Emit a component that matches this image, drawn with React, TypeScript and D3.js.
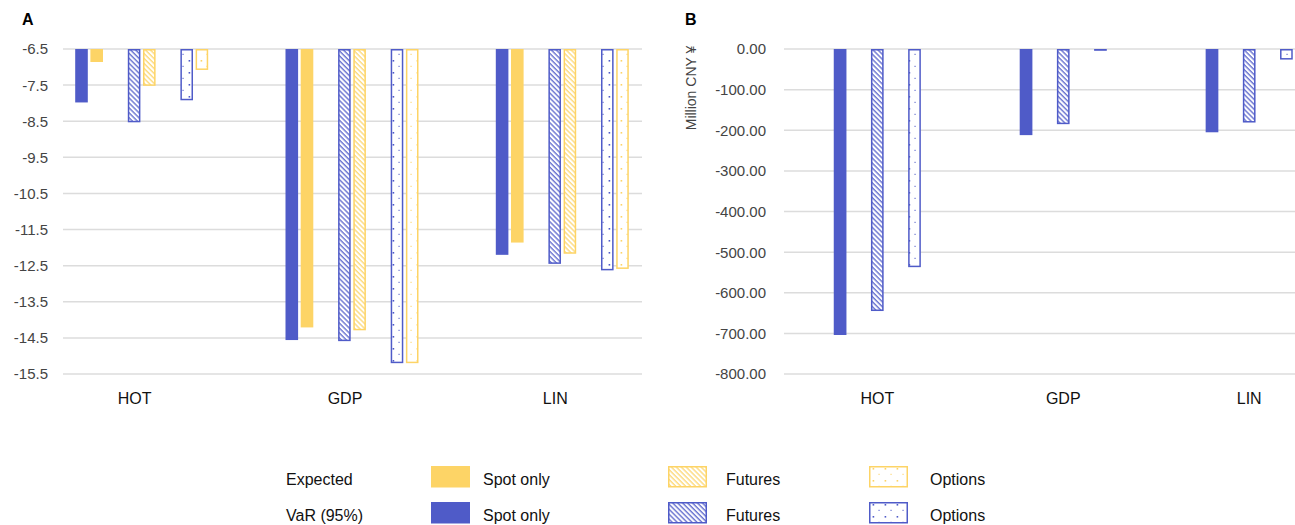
import * as d3 from 'd3'

const categories = ['HOT', 'GDP', 'LIN']
const instruments = ['Spot only', 'Futures', 'Options']
const measures = ['Expected', 'VaR (95%)']

// panel A (per-unit values)
const expSpotA = [-6.86, -14.21, -11.86]
const expFutA = [-7.52, -14.29, -12.17]
const expOptA = [-7.08, -15.2, -12.59]
const varSpotA = [-7.98, -14.56, -12.2]
const varFutA = [-8.53, -14.59, -12.45]
const varOptA = [-7.92, -15.2, -12.63]
const ticksA = [-6.5, -7.5, -8.5, -9.5, -10.5, -11.5, -12.5, -13.5, -14.5, -15.5]

// panel B (Million CNY)
const varSpotB = [-704, -212, -205]
const varFutB = [-645, -185, -181]
const varOptB = [-537, -4, -26]
const ticksB = [0, -100, -200, -300, -400, -500, -600, -700, -800]

const BLUE = '#4f5bc8'
const YELLOW = '#fdd466'
const GRID = '#dcdcdc'
const FONT = '"Liberation Sans", Arial, sans-serif'

const fillFor = (inst: string, color: string) => {
  const key = color === BLUE ? 'b' : 'y'
  if (inst === 'Futures') return `url(#hatch-${key})`
  if (inst === 'Options') return `url(#dots-${key})`
  return color
}

const Bar = ({ x, y0, y1, w, inst, color }) => {
  const top = Math.min(y0, y1)
  const h = Math.abs(y1 - y0)
  if (inst === 'Spot only') {
    return <rect x={x} y={top} width={w} height={h} fill={color} />
  }
  return (
    <rect x={x + 0.75} y={top + 0.75} width={w - 1.5} height={Math.max(0.3, h - 1.5)}
      fill={fillFor(inst, color)} stroke={color} strokeWidth={1.5} />
  )
}

export default function App() {
  const yA = d3.scaleLinear().domain([-6.5, -15.5]).range([49, 374])
  const xA = d3.scalePoint().domain(categories).range([141.7, 562.3])
  const subA = d3.scalePoint().domain(instruments).range([-52.6, 52.6])
  const bwA = 12.6

  const yB = d3.scaleLinear().domain([0, -800]).range([49, 374])
  const xB = d3.scalePoint().domain(categories).range([877.3, 1249.2])
  const subB = d3.scalePoint().domain(instruments).range([-37.2, 37.2])
  const bwB = 12.7

  const seriesA = [
    { inst: 'Spot only', m: 'VaR (95%)', vals: varSpotA },
    { inst: 'Spot only', m: 'Expected', vals: expSpotA },
    { inst: 'Futures', m: 'VaR (95%)', vals: varFutA },
    { inst: 'Futures', m: 'Expected', vals: expFutA },
    { inst: 'Options', m: 'VaR (95%)', vals: varOptA },
    { inst: 'Options', m: 'Expected', vals: expOptA },
  ]
  const seriesB = [
    { inst: 'Spot only', vals: varSpotB },
    { inst: 'Futures', vals: varFutB },
    { inst: 'Options', vals: varOptB },
  ]

  const legendCols = [431, 668, 869]
  const legendRows = [466, 502]

  return (
    <svg width={1295} height={525} style={{ position: 'absolute', left: 0, top: 0, fontFamily: FONT }}>
      <defs>
        {[['b', BLUE], ['y', YELLOW]].map(([k, c]) => (
          <g key={k}>
            <pattern id={`hatch-${k}`} patternUnits="userSpaceOnUse" width={3.5} height={3.5}
              patternTransform="rotate(-45)">
              <rect width={3.5} height={3.5} fill="#fff" />
              <line x1={1} y1={0} x2={1} y2={3.5} stroke={c} strokeWidth={1.2} />
            </pattern>
            <pattern id={`dots-${k}`} patternUnits="userSpaceOnUse" width={12} height={12}>
              <rect width={12} height={12} fill="#fff" />
              <rect x={8.6} y={0} width={1.6} height={1.6} fill={c} />
              <rect x={2.5} y={5.8} width={1.1} height={1.1} fill={c} />
            </pattern>
          </g>
        ))}
      </defs>

      {/* Panel A */}
      <text x={22} y={25} fontSize={16} fontWeight="bold" fill="#000">A</text>
      {ticksA.map(t => (
        <g key={t}>
          <line x1={63} x2={642} y1={yA(t)} y2={yA(t)} stroke={GRID} strokeWidth={1.5} />
          <text x={48} y={yA(t)} dy="0.36em" textAnchor="end" fontSize={15} fill="#444">{t.toFixed(1)}</text>
        </g>
      ))}
      {seriesA.map(s => s.vals.map((v, i) => {
        const cx = xA(categories[i]) + subA(s.inst) + (s.m === 'VaR (95%)' ? -7.6 : 7.6)
        return <Bar key={s.inst + s.m + i} x={cx - bwA / 2} y0={yA(-6.5)} y1={yA(v)} w={bwA}
          inst={s.inst} color={s.m === 'VaR (95%)' ? BLUE : YELLOW} />
      }))}
      {categories.map(c => (
        <text key={c} x={xA(c) - 7} y={404} textAnchor="middle" fontSize={16} fill="#111">{c}</text>
      ))}

      {/* Panel B */}
      <text x={685} y={25} fontSize={16} fontWeight="bold" fill="#000">B</text>
      <text transform="translate(696,88) rotate(-90)" textAnchor="middle" fontSize={14} fill="#444">Million CNY ¥</text>
      {ticksB.map(t => (
        <g key={t}>
          <line x1={784} x2={1295} y1={yB(t)} y2={yB(t)} stroke={GRID} strokeWidth={1.5} />
          <text x={766} y={yB(t)} dy="0.36em" textAnchor="end" fontSize={15} fill="#444">{t.toFixed(2)}</text>
        </g>
      ))}
      {seriesB.map(s => s.vals.map((v, i) => {
        const cx = xB(categories[i]) + subB(s.inst)
        return <Bar key={s.inst + i} x={cx - bwB / 2} y0={yB(0)} y1={yB(v)} w={bwB} inst={s.inst} color={BLUE} />
      }))}
      {categories.map(c => (
        <text key={c} x={xB(c)} y={404} textAnchor="middle" fontSize={16} fill="#111">{c}</text>
      ))}

      {/* Legend */}
      {measures.map((m, r) => {
        const color = m === 'VaR (95%)' ? BLUE : YELLOW
        const y = legendRows[r]
        return (
          <g key={m}>
            <text x={286} y={y + 19} fontSize={16} fill="#111">{m}</text>
            {instruments.map((inst, c) => (
              <g key={inst}>
                <Bar x={legendCols[c]} y0={y} y1={y + 21.5} w={39} inst={inst} color={color} />
                <text x={legendCols[c] + (inst === 'Spot only' ? 52 : 58) + (inst === 'Options' ? 3 : 0)} y={y + 19}
                  fontSize={16} fill="#111">{inst}</text>
              </g>
            ))}
          </g>
        )
      })}
    </svg>
  )
}
